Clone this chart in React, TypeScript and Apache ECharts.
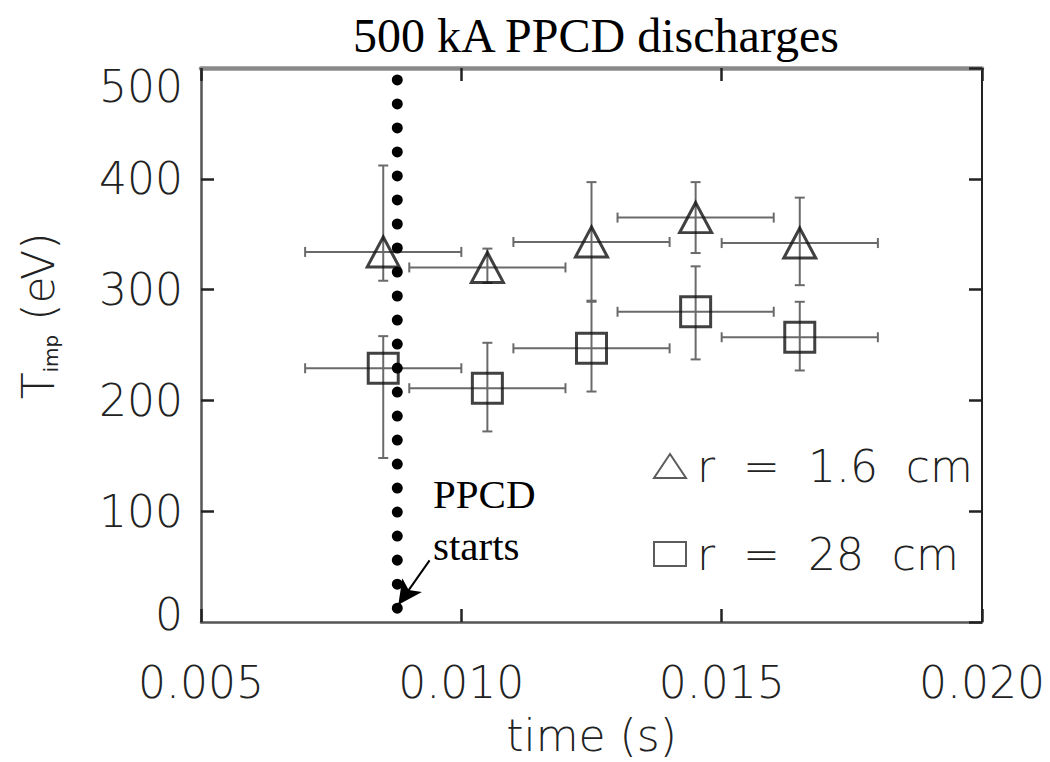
import React, { useEffect, useRef } from "react";
import * as echarts from "echarts";

// ---- data ----
const times = [0.0085, 0.0105, 0.0125, 0.0145, 0.0165];
const timeErr = [0.0015, 0.0015, 0.0015, 0.0015, 0.0015];
const triVals = [334, 320, 343, 365, 342];
const triLo = [308, 306, 290, 333, 304];
const triHi = [412, 337, 397, 397, 383];
const sqVals = [229, 211, 247, 280, 257];
const sqLo = [148, 172, 208, 237, 227];
const sqHi = [258, 252, 289, 321, 289];
const xTicks = [0.005, 0.01, 0.015, 0.02];
const yTicks = [0, 100, 200, 300, 400, 500];
const triName = "r  =  1.6  cm";
const sqName = "r  =  28  cm";
const ppcdStart = 0.00877;
const ppcdLineRange = [12.5, 500];
const arrowFrom = [0.00939, 55.6];
const arrowTo = [0.00879, 15.5];

const FONT = "DejaVu Sans";
const SERIF = "Liberation Serif";

function errData(vals: number[], lo: number[], hi: number[]) {
  return times.map((t, i) => [t, vals[i], timeErr[i], lo[i], hi[i]]);
}

const errRender = (params: any, api: any) => {
  const x = api.value(0);
  const y = api.value(1);
  const xe = api.value(2);
  const ylo = api.value(3);
  const yhi = api.value(4);
  const pL = api.coord([x - xe, y]);
  const pR = api.coord([x + xe, y]);
  const pT = api.coord([x, yhi]);
  const pB = api.coord([x, ylo]);
  const c = 5;
  const style = { stroke: "#6a6a6a", lineWidth: 2 };
  const ln = (x1: number, y1: number, x2: number, y2: number) => ({
    type: "line",
    shape: { x1, y1, x2, y2 },
    style,
  });
  return {
    type: "group",
    children: [
      ln(pL[0], pL[1], pR[0], pR[1]),
      ln(pL[0], pL[1] - c, pL[0], pL[1] + c),
      ln(pR[0], pR[1] - c, pR[0], pR[1] + c),
      ln(pT[0], pT[1], pB[0], pB[1]),
      ln(pT[0] - c, pT[1], pT[0] + c, pT[1]),
      ln(pB[0] - c, pB[1], pB[0] + c, pB[1]),
    ],
  };
};

export default function App() {
  const ref = useRef<HTMLDivElement>(null);
  useEffect(() => {
    if (!ref.current) return;
    const chart = echarts.init(ref.current, undefined, { renderer: "svg" });
    const xMin = xTicks[0];
    const xMax = xTicks[xTicks.length - 1];
    const xInt = xTicks[1] - xTicks[0];
    const yMin = yTicks[0];
    const yMax = yTicks[yTicks.length - 1];
    const yInt = yTicks[1] - yTicks[0];
    const leftTickLen = (xMax - xMin) * (13 / 781);
    const labelStyle = {
      fontFamily: FONT,
      fontSize: 44,
      fontWeight: 200 as any,
      color: "#222",
    };
    const hollow = { color: "transparent", borderColor: "#111", borderWidth: 3 };
    const mkTick = (show: boolean) => ({
      show,
      inside: true,
      length: 13,
      lineStyle: { color: "#222", width: 2.5 },
    });
    chart.setOption({
      animation: false,
      backgroundColor: "#fff",
      grid: { left: 201, right: 68, top: 68, bottom: 137, show: false },
      legend: {
        orient: "vertical",
        left: 653,
        top: 444,
        padding: 0,
        itemGap: 44,
        itemWidth: 32,
        itemHeight: 24,
        textStyle: { ...labelStyle, lineHeight: 44, padding: [0, 0, 0, 6] },
        data: [
          {
            name: triName,
            icon: "triangle",
            itemStyle: { color: "transparent", borderColor: "#333", borderWidth: 2 },
          },
          {
            name: sqName,
            icon: "rect",
            itemStyle: { color: "transparent", borderColor: "#333", borderWidth: 2 },
          },
        ],
      },
      xAxis: [
        {
          type: "value",
          min: xMin,
          max: xMax,
          interval: xInt,
          position: "bottom",
          name: "time (s)",
          nameLocation: "middle",
          nameGap: 91,
          nameTextStyle: { ...labelStyle },
          axisLine: { onZero: false, lineStyle: { color: "#555", width: 2.5 } },
          axisTick: mkTick(true),
          axisLabel: {
            ...labelStyle,
            margin: 38,
            formatter: (v: number) => v.toFixed(3),
          },
          splitLine: { show: false },
        },
        {
          type: "value",
          min: xMin,
          max: xMax,
          interval: xInt,
          position: "top",
          axisLine: { onZero: false, lineStyle: { color: "#8a8a8a", width: 4.5 } },
          axisTick: mkTick(true),
          axisLabel: { show: false },
          splitLine: { show: false },
        },
      ],
      yAxis: [
        {
          type: "value",
          min: yMin,
          max: yMax,
          interval: yInt,
          position: "left",
          axisLine: { show: true, onZero: false, lineStyle: { color: "#555", width: 2.5 } },
          axisTick: mkTick(false),
          axisLabel: {
            ...labelStyle,
            margin: 18,
            formatter: (v: number) =>
              v === yMax ? `{hi|${v}}` : v === yMin ? `{lo|${v}}` : `${v}`,
            rich: {
              hi: { ...labelStyle, padding: [36, 0, 0, 0] },
              lo: { ...labelStyle, padding: [0, 0, 16, 0] },
            },
          },
          splitLine: { show: false },
        },
        {
          type: "value",
          min: yMin,
          max: yMax,
          interval: yInt,
          position: "right",
          axisLine: { show: true, onZero: false, lineStyle: { color: "#222", width: 2 } },
          axisTick: mkTick(true),
          axisLabel: { show: false },
          splitLine: { show: false },
        },
      ],
      series: [
        {
          type: "custom",
          name: "triErr",
          renderItem: errRender,
          encode: { x: 0, y: 1 },
          data: errData(triVals, triLo, triHi),
          z: 2,
          silent: true,
        },
        {
          type: "custom",
          name: "sqErr",
          renderItem: errRender,
          encode: { x: 0, y: 1 },
          data: errData(sqVals, sqLo, sqHi),
          z: 2,
          silent: true,
        },
        {
          type: "scatter",
          name: triName,
          symbol: "triangle",
          symbolSize: [32, 30],
          itemStyle: hollow,
          data: times.map((t, i) => [t, triVals[i]]),
          z: 3,
        },
        {
          type: "scatter",
          name: sqName,
          symbol: "rect",
          symbolSize: [30, 30],
          itemStyle: hollow,
          data: times.map((t, i) => [t, sqVals[i]]),
          z: 3,
        },
        {
          type: "line",
          name: "leftTicks",
          data: [],
          silent: true,
          markLine: {
            silent: true,
            symbol: ["none", "none"],
            label: { show: false },
            lineStyle: { color: "#222", width: 2.5, type: "solid" },
            data: yTicks
              .filter((v) => v > yMin && v < yMax)
              .map((v) => [{ coord: [xMin, v] }, { coord: [xMin + leftTickLen, v] }]),
          },
        },
        {
          type: "line",
          name: "ppcd",
          data: ppcdLineRange.map((v) => [ppcdStart, v]),
          showSymbol: false,
          symbol: "none",
          lineStyle: { color: "#000", width: 11, type: [0.01, 24], cap: "round" },
          z: 5,
          silent: true,
          markLine: {
            silent: true,
            symbol: ["none", "arrow"],
            symbolSize: [18, 24],
            label: { show: false },
            lineStyle: { color: "#000", width: 2, type: "solid" },
            data: [[{ coord: arrowFrom }, { coord: arrowTo }]],
          },
        },
      ],
      graphic: [
        {
          type: "text",
          style: {
            x: 596,
            y: 59,
            text: "500 kA PPCD discharges",
            fontFamily: SERIF,
            fontSize: 48,
            fill: "#000",
            textAlign: "center",
            textVerticalAlign: "bottom",
          },
        },
        {
          type: "text",
          style: {
            x: 433,
            y: 514,
            text: "PPCD",
            fontFamily: SERIF,
            fontSize: 41,
            fill: "#000",
            textAlign: "left",
            textVerticalAlign: "bottom",
          },
        },
        {
          type: "text",
          style: {
            x: 433,
            y: 566,
            text: "starts",
            fontFamily: SERIF,
            fontSize: 41,
            fill: "#000",
            textAlign: "left",
            textVerticalAlign: "bottom",
          },
        },
        {
          type: "text",
          x: 38,
          y: 316,
          rotation: Math.PI / 2,
          style: {
            text: "{t|T}{s|imp}{t| (eV)}",
            textAlign: "center",
            textVerticalAlign: "middle",
            rich: {
              t: { fontFamily: FONT, fontSize: 44, fontWeight: 200, fill: "#222" },
              s: {
                fontFamily: FONT,
                fontSize: 20,
                fontWeight: 400,
                fill: "#222",
                padding: [26, 0, 0, 0],
              },
            },
          },
        },
      ],
    });
    return () => chart.dispose();
  }, []);
  return (
    <div
      ref={ref}
      style={{ position: "absolute", left: 0, top: 0, width: 1050, height: 762 }}
    />
  );
}
